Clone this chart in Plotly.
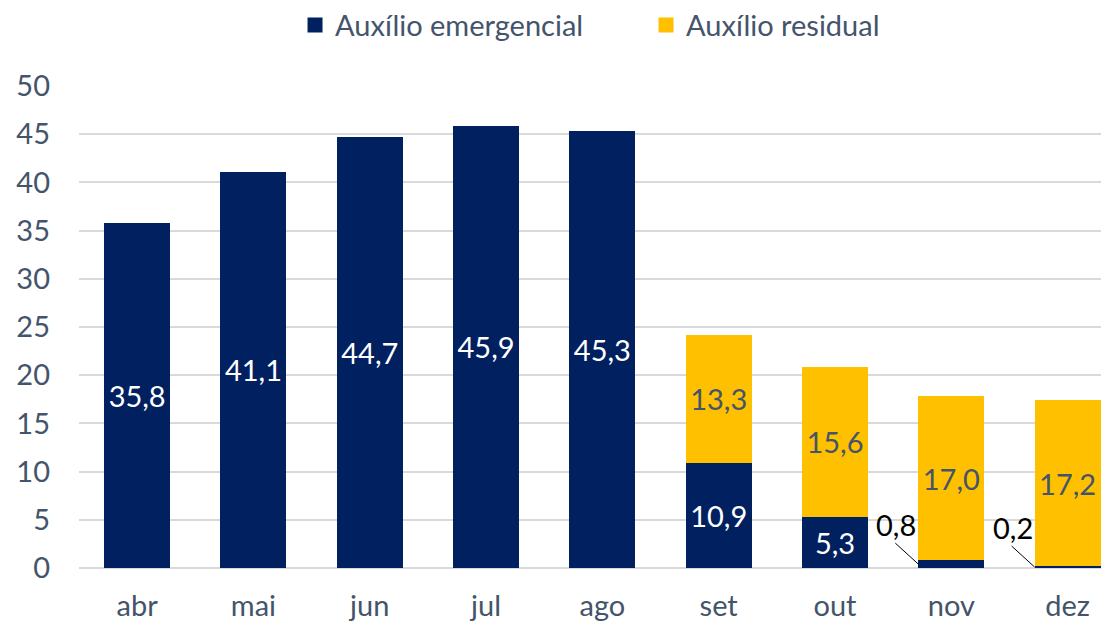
import plotly.graph_objects as go

months = ["abr", "mai", "jun", "jul", "ago", "set", "out", "nov", "dez"]
emergencial = [35.8, 41.1, 44.7, 45.9, 45.3, 10.9, 5.3, 0.8, 0.2]
residual = [None, None, None, None, None, 13.3, 15.6, 17.0, 17.2]
y_ticks = [0, 5, 10, 15, 20, 25, 30, 35, 40, 45, 50]

NAVY = "#002060"
GOLD = "#FFC000"
SLATE = "#44546A"
FONT = "Lato, 'Open Sans', sans-serif"
FS = 29
BAR_FRAC = 0.567


def fmt(v):
    return f"{v:.1f}".replace(".", ",")


emerg_text = [fmt(v) if v >= 1 else "" for v in emergencial]
resid_text = [fmt(v) if v is not None else "" for v in residual]

fig = go.Figure()
fig.add_trace(go.Bar(
    name="Auxílio emergencial", x=months, y=emergencial, marker_color=NAVY,
    marker_line_width=0, text=emerg_text, textposition="inside",
    insidetextanchor="middle", textangle=0, showlegend=False,
    textfont=dict(color="white", size=FS, family=FONT),
))
fig.add_trace(go.Bar(
    name="Auxílio residual", x=months, y=residual, marker_color=GOLD,
    marker_line_width=0, text=resid_text, textposition="inside",
    insidetextanchor="middle", textangle=0, showlegend=False,
    textfont=dict(color=SLATE, size=FS, family=FONT),
))
# legend entries with larger square swatches
for name, col in [("Auxílio emergencial", NAVY), ("Auxílio residual", GOLD)]:
    fig.add_trace(go.Scatter(
        name=name, x=[None], y=[None], mode="markers",
        marker=dict(symbol="square", size=15, color=col, line_width=0),
        showlegend=True, hoverinfo="skip",
    ))

# Small values: labels outside with leader lines
for i, v in enumerate(emergencial):
    if v < 1:
        tip_x = i - BAR_FRAC / 2
        tip_y = v / 2
        fig.add_shape(
            type="line", xref="x", yref="y", xsizemode="pixel", ysizemode="pixel",
            xanchor=tip_x, yanchor=tip_y, x0=-23, y0=21, x1=0, y1=0,
            line=dict(color="black", width=1),
        )
        fig.add_annotation(
            x=tip_x, y=tip_y, xref="x", yref="y", showarrow=False,
            xshift=-22, yshift=40, text=fmt(v),
            font=dict(color="black", size=FS, family=FONT),
        )

fig.update_layout(
    barmode="stack",
    bargap=1 - BAR_FRAC,
    width=1101, height=615,
    margin=dict(l=71, r=0, t=78, b=55),
    plot_bgcolor="white", paper_bgcolor="white",
    font=dict(family=FONT, color=SLATE, size=FS),
    uniformtext=dict(minsize=FS, mode="show"),
    showlegend=True,
    legend=dict(orientation="h", x=0.2607, xref="container", xanchor="left",
                y=0.972, yref="container", yanchor="middle",
                entrywidth=306, entrywidthmode="pixels",
                font=dict(size=FS, color=SLATE), traceorder="normal"),
    xaxis=dict(range=[-0.5, 8.356], showgrid=False, showline=False,
               ticks="", tickfont=dict(size=FS, color=SLATE), ticklabelstandoff=18),
    yaxis=dict(range=[0, 50], tickvals=y_ticks, showgrid=True,
               gridcolor="#D9D9D9", gridwidth=1.5, zeroline=True,
               zerolinecolor="#D9D9D9", zerolinewidth=1.5,
               tickfont=dict(size=FS, color=SLATE), ticklabelstandoff=28),
)

fig.write_html("out.html")
